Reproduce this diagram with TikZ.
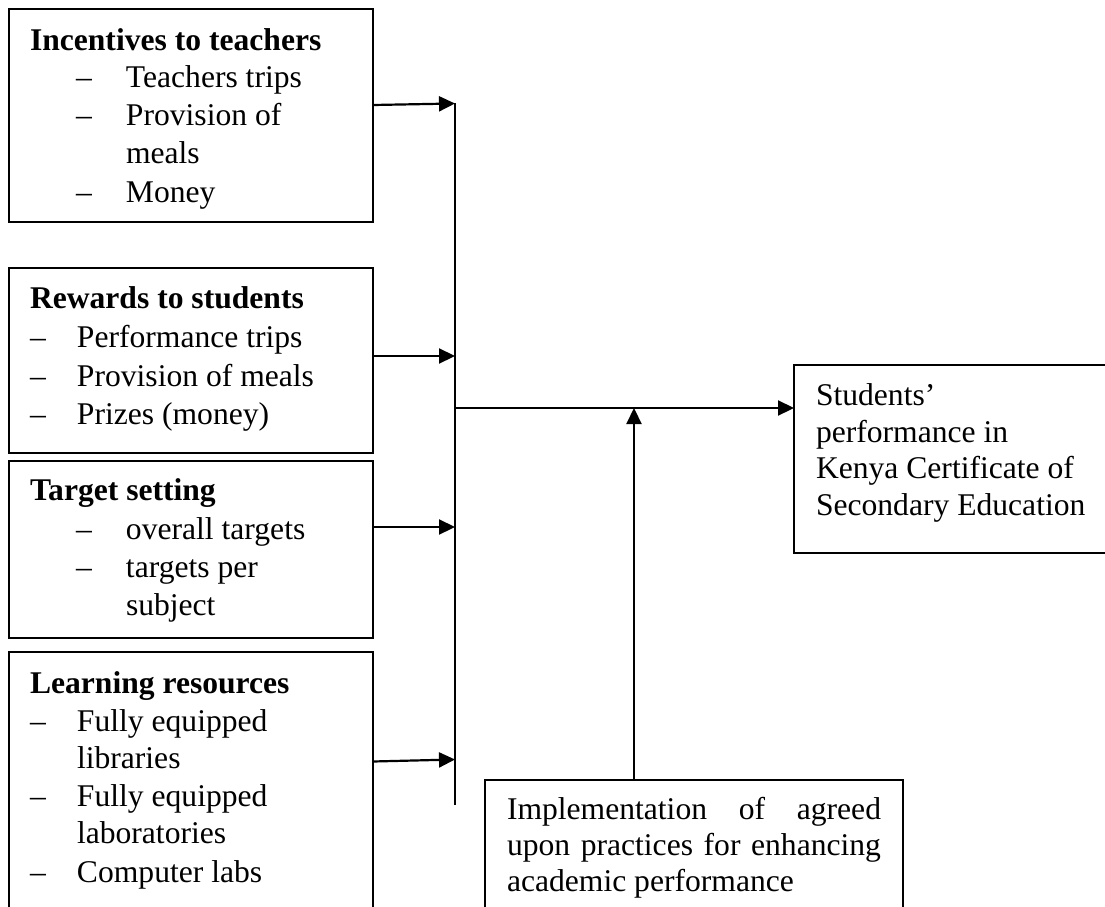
\documentclass[tikz,border=0pt]{standalone}
\usepackage{fontspec}
\setmainfont{Liberation Serif}
\usetikzlibrary{arrows.meta}

\tikzset{
  frame/.style={draw=black, line width=2bp, rectangle, anchor=north west,
                inner sep=0pt, outer sep=0pt},
  txt/.style={anchor=base west, inner sep=0pt, outer sep=0pt,
              font=\fontsize{31.6bp}{38bp}\selectfont},
  head/.style={txt, font=\fontsize{31.6bp}{38bp}\selectfont\bfseries},
  link/.style={line width=2.2bp, draw=black},
  arr/.style={link, -{Triangle[length=16bp, width=15bp]}}
}
\newcommand{\dashA}[1]{\makebox[50bp][l]{–}#1}
\newcommand{\dashB}[1]{\makebox[47bp][l]{–}#1}

\begin{document}
\begin{tikzpicture}[x=1bp, y=-1bp]
  \useasboundingbox (0,0) rectangle (1105,907);
  \clip (0,0) rectangle (1105,907);
  \fill[white] (0,0) rectangle (1105,907);

  % input boxes on the left
  \node[frame, minimum width=364bp, minimum height=213bp] (inc) at (9,9) {};
  \node[frame, minimum width=364bp, minimum height=185bp] (rew) at (9,268) {};
  \node[frame, minimum width=364bp, minimum height=177bp] (tgt) at (9,461) {};
  \node[frame, minimum width=364bp, minimum height=300bp] (lrn) at (9,652) {};

  % outcome and moderating boxes
  \node[frame, minimum width=340bp, minimum height=188bp] (out) at (794,365) {};
  \node[frame, minimum width=418bp, minimum height=170bp] (impl) at (485,780) {};

  % incentives to teachers
  \node[head] (incH) at (30,50) {Incentives to teachers};
  \node[txt] (inc1) at (76,87) {\dashA{Teachers trips}};
  \node[txt] (inc2) at (76,125) {\dashA{Provision of}};
  \node[txt] (inc3) at (126,163) {meals};
  \node[txt] (inc4) at (76,202) {\dashA{Money}};

  % rewards to students
  \node[head] (rewH) at (30,308) {Rewards to students};
  \node[txt] (rew1) at (30,347) {\dashB{Performance trips}};
  \node[txt] (rew2) at (30,386) {\dashB{Provision of meals}};
  \node[txt] (rew3) at (30,424) {\dashB{Prizes (money)}};

  % target setting
  \node[head] (tgtH) at (30,500) {Target setting};
  \node[txt] (tgt1) at (76,539) {\dashA{overall targets}};
  \node[txt] (tgt2) at (76,577) {\dashA{targets per}};
  \node[txt] (tgt3) at (126,615) {subject};

  % learning resources
  \node[head] (lrnH) at (30,693) {Learning resources};
  \node[txt] (lrn1) at (30,731) {\dashB{Fully equipped}};
  \node[txt] (lrn2) at (77,768) {libraries};
  \node[txt] (lrn3) at (30,806) {\dashB{Fully equipped}};
  \node[txt] (lrn4) at (77,843) {laboratories};
  \node[txt] (lrn5) at (30,882) {\dashB{Computer labs}};

  % outcome text
  \node[txt] (out1) at (816,405) {Students’};
  \node[txt] (out2) at (816,442) {performance in};
  \node[txt] (out3) at (816,478) {Kenya Certificate of};
  \node[txt] (out4) at (816,515) {Secondary Education};

  % moderating variable text (justified lines)
  \node[txt] (impl1) at (507,819) {\makebox[374bp][s]{Implementation of agreed}};
  \node[txt] (impl2) at (507,855) {\makebox[374bp][s]{upon practices for enhancing}};
  \node[txt] (impl3) at (507,891) {academic performance};

  % collecting bar
  \coordinate (busTop) at (455,103);
  \coordinate (busBot) at (455,805);
  \draw[link] (busTop) -- (busBot);

  % arrows from the input boxes into the bar
  \coordinate (in1) at (455,103.5);
  \coordinate (in2) at (455,356);
  \coordinate (in3) at (455,527);
  \coordinate (in4) at (455,759.5);
  \draw[arr] (inc.east |- 0,105) -- (in1);
  \draw[arr] (rew.east |- in2) -- (in2);
  \draw[arr] (tgt.east |- in3) -- (in3);
  \draw[arr] (lrn.east |- 0,761.5) -- (in4);

  % main arrow to the outcome
  \coordinate (mainStart) at (455,408);
  \draw[arr] (mainStart) -- (out.west |- mainStart);

  % moderating arrow
  \coordinate (modEnd) at (634,408);
  \draw[arr] (impl.north -| modEnd) -- (modEnd);
\end{tikzpicture}
\end{document}
